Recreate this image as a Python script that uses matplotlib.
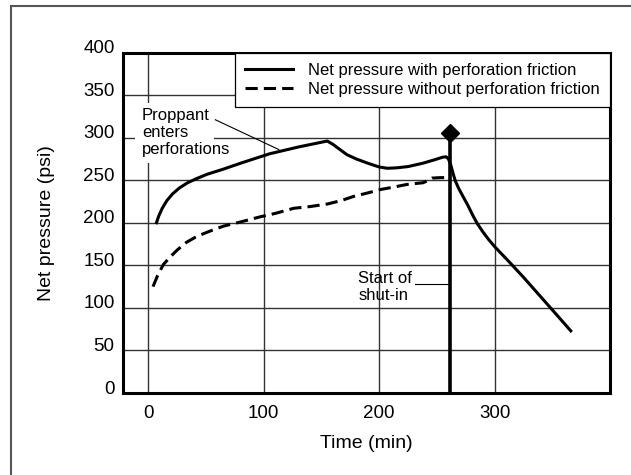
import matplotlib
matplotlib.use("Agg")
import matplotlib.pyplot as plt
from matplotlib.patches import Rectangle
from matplotlib.transforms import ScaledTranslation

plt.rcParams['font.family'] = ['Liberation Sans', 'DejaVu Sans']

# ---- data ----
time_with = [7, 9, 12, 16, 21, 27, 34, 42, 51, 65, 80, 105, 130, 155, 160, 166, 172,
             180, 190, 200, 207, 215, 225, 238, 248, 255, 258, 260, 262, 264, 266,
             269, 273, 277, 281, 285, 290, 295, 300, 312, 325, 340, 355, 366]
p_with = [200, 208, 217, 226, 234, 241, 247, 252, 257, 263, 270, 281, 289, 296, 292, 286, 280,
          275, 270, 265.5, 264, 264.5, 266, 270, 274, 277, 277.5, 275, 268, 258, 249,
          240, 230, 220, 209, 199, 189, 180, 172, 155, 136, 113, 90, 73]

time_without = [4, 8, 13, 19, 25, 33, 42, 53, 65, 80, 97, 110, 126, 140, 155, 167,
                178, 190, 201, 213, 224, 238, 243, 246, 253, 260]
p_without = [125, 138, 151, 160, 168, 177, 184, 190, 196, 201, 207, 211, 217, 219, 222, 226,
             231, 235, 239, 242, 245, 247, 250, 252.5, 253, 253]

shutin_time = 261
shutin_top = 306

x_ticks = [0, 100, 200, 300]
y_ticks = [0, 50, 100, 150, 200, 250, 300, 350, 400]

label_with = "Net pressure with perforation friction"
label_without = "Net pressure without perforation friction"

# ---- figure ----
fig = plt.figure(figsize=(6.31, 4.75), dpi=100)
ax = fig.add_axes([123 / 631, 1 - 393 / 475, 487 / 631, 340.5 / 475])

# outer frame of the figure
fig.patches.append(Rectangle((11 / 631, -0.2), 1.2, 1.2 - 6 / 475,
                             transform=fig.transFigure, fill=False,
                             edgecolor='#555555', linewidth=1.5))

ax.set_xlim(-22, 400)
ax.set_ylim(0, 400)
ax.set_xticks(x_ticks)
ax.set_yticks(y_ticks)
ax.grid(True, color='#333333', linewidth=1.0)
ax.tick_params(length=0, labelsize=13.5)
ax.tick_params(axis='y', pad=6)
ax.tick_params(axis='x', pad=9)
for lab in ax.get_yticklabels():
    lab.set_transform(lab.get_transform() + ScaledTranslation(0, 0.06, fig.dpi_scale_trans))

for sp in ax.spines.values():
    sp.set_linewidth(2.2)
    sp.set_color('black')

l1, = ax.plot(time_with, p_with, color='black', lw=2.2, solid_joinstyle='round',
              label=label_with, zorder=3)
l2, = ax.plot(time_without, p_without, color='black', lw=2.2, linestyle=(0, (4, 2)),
              label=label_without, zorder=3)

# shut-in marker
ax.plot([shutin_time, shutin_time], [0, shutin_top], color='black', lw=2.6, zorder=3,
        solid_capstyle='butt')
ax.plot([shutin_time], [shutin_top], marker='D', markersize=9, color='black', zorder=4)

# annotations
ax.add_patch(Rectangle((-11.5, 270.6), 68.5, 70.4, facecolor='white', edgecolor='none',
                       zorder=1.8))
ax.text(-5.7, 306, "Proppant\nenters\nperforations", fontsize=12, ha='left', va='center',
        linespacing=1.2, zorder=3)
ax.plot([58, 113], [321, 286], color='black', lw=0.8, zorder=3)

ax.text(182, 124.7, "Start of\nshut-in", fontsize=12, ha='left', va='center',
        linespacing=1.2, zorder=3)
ax.plot([231, 260], [128, 128], color='black', lw=0.8, zorder=3)

leg = ax.legend(handles=[l1, l2], loc='upper right', bbox_to_anchor=(1, 1),
                borderaxespad=0, fontsize=12, frameon=True, fancybox=False,
                handlelength=2.9, handletextpad=0.9, borderpad=0.6, labelspacing=0.25)
leg.get_frame().set_edgecolor('black')
leg.get_frame().set_linewidth(0.9)
leg.get_frame().set_alpha(1)

ax.set_xlabel("Time (min)", fontsize=14)
ax.set_ylabel("Net pressure (psi)", fontsize=14)
ax.xaxis.label.set_va('center')
ax.yaxis.label.set_va('center')
ax.xaxis.set_label_coords(0.5, (393 - 443) / 340.5)
ax.yaxis.set_label_coords((46.7 - 123) / 487, 0.5)

fig.savefig("out.png", dpi=100)
